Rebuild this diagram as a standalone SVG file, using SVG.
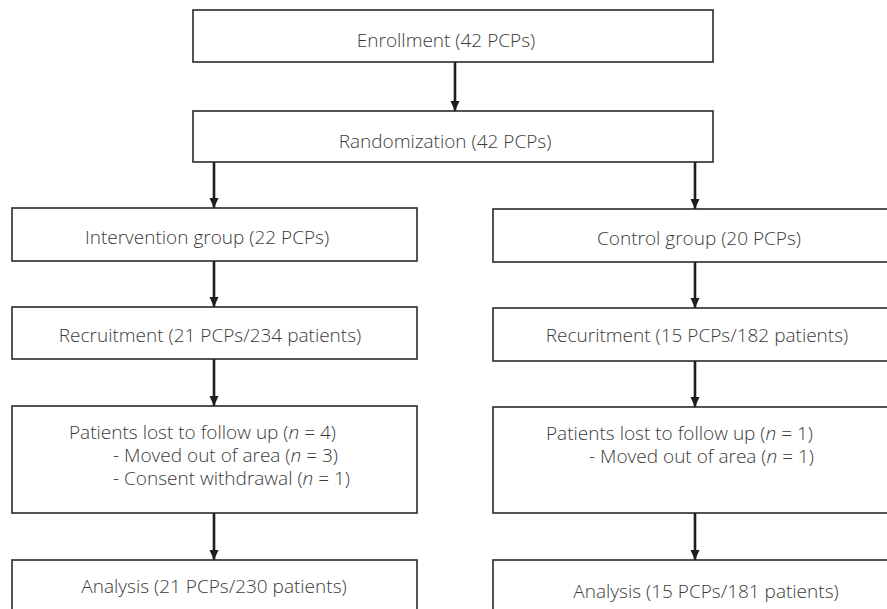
<svg xmlns="http://www.w3.org/2000/svg" width="887" height="609" viewBox="0 0 887 609">
<style>
  .box { fill: #ffffff; stroke: #2a2a2a; stroke-width: 1.6; }
  .lbl { font-family: "Open Sans", "Liberation Sans", sans-serif; font-weight: 300; font-size: 19px; fill: #3a3a3a; }
  .mid { text-anchor: middle; }
  .it { font-style: italic; }
  .conn { stroke: #1e1e1e; stroke-width: 2.6; fill: none; marker-end: url(#arr); }
</style>
<defs>
  <marker id="arr" markerUnits="userSpaceOnUse" markerWidth="10" markerHeight="10" viewBox="0 0 10 10" refX="10" refY="5" orient="auto">
    <path d="M0,0.5 L10,5 L0,9.5 Z" fill="#1e1e1e"/>
  </marker>
</defs>
<rect width="887" height="609" fill="#ffffff"/>

<g id="connectors">
  <line class="conn" x1="455" y1="62" x2="455" y2="111"/>
  <line class="conn" x1="214" y1="162" x2="214" y2="208"/>
  <line class="conn" x1="695" y1="162" x2="695" y2="209"/>
  <line class="conn" x1="214" y1="261" x2="214" y2="307"/>
  <line class="conn" x1="695" y1="262" x2="695" y2="308"/>
  <line class="conn" x1="214" y1="359" x2="214" y2="406"/>
  <line class="conn" x1="695" y1="361" x2="695" y2="407"/>
  <line class="conn" x1="214" y1="513" x2="214" y2="560"/>
  <line class="conn" x1="695" y1="513" x2="695" y2="560"/>
</g>

<g id="enrollment">
  <rect class="box" x="193" y="10" width="520" height="52"/>
  <text class="lbl mid" x="446" y="47">Enrollment (42 PCPs)</text>
</g>
<g id="randomization">
  <rect class="box" x="193" y="111" width="520" height="51"/>
  <text class="lbl mid" x="445" y="148">Randomization (42 PCPs)</text>
</g>

<g id="intervention">
  <rect class="box" x="12" y="208" width="405" height="53"/>
  <text class="lbl mid" x="207" y="244">Intervention group (22 PCPs)</text>
</g>
<g id="recruitment-left">
  <rect class="box" x="12" y="307" width="405" height="52"/>
  <text class="lbl mid" x="210" y="342">Recruitment (21 PCPs/234 patients)</text>
</g>
<g id="lost-left">
  <rect class="box" x="12" y="406" width="405" height="107"/>
  <text class="lbl" x="69" y="439">Patients lost to follow up (<tspan class="it">n</tspan> = 4)</text>
  <text class="lbl" x="113" y="462">- Moved out of area (<tspan class="it">n</tspan> = 3)</text>
  <text class="lbl" x="113" y="485">- Consent withdrawal (<tspan class="it">n</tspan> = 1)</text>
</g>
<g id="analysis-left">
  <rect class="box" x="12" y="560" width="405" height="70"/>
  <text class="lbl mid" x="214" y="593">Analysis (21 PCPs/230 patients)</text>
</g>

<g id="control">
  <rect class="box" x="493" y="209" width="413" height="53"/>
  <text class="lbl mid" x="699" y="245">Control group (20 PCPs)</text>
</g>
<g id="recruitment-right">
  <rect class="box" x="493" y="308" width="413" height="53"/>
  <text class="lbl mid" x="697" y="342">Recuritment (15 PCPs/182 patients)</text>
</g>
<g id="lost-right">
  <rect class="box" x="493" y="407" width="413" height="106"/>
  <text class="lbl" x="546" y="440">Patients lost to follow up (<tspan class="it">n</tspan> = 1)</text>
  <text class="lbl" x="589" y="463">- Moved out of area (<tspan class="it">n</tspan> = 1)</text>
</g>
<g id="analysis-right">
  <rect class="box" x="493" y="560" width="413" height="70"/>
  <text class="lbl mid" x="706" y="598">Analysis (15 PCPs/181 patients)</text>
</g>
</svg>
